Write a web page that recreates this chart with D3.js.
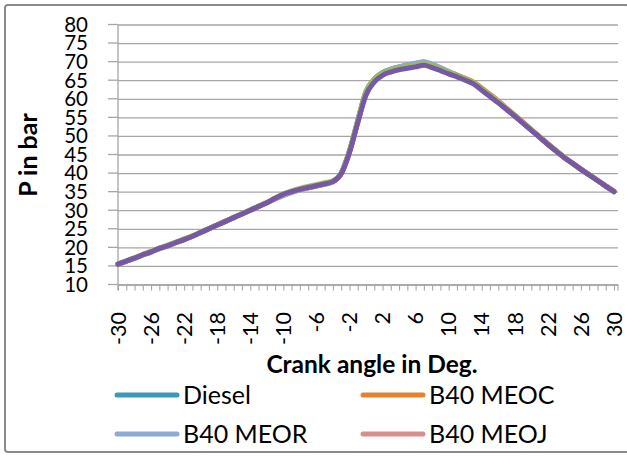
<!DOCTYPE html>
<html>
<head>
<meta charset="utf-8">
<script src="https://cdn.jsdelivr.net/npm/d3@7/dist/d3.min.js"></script>
<style>
  html, body { margin: 0; padding: 0; background: #fff; }
  svg { display: block; }
  text { font-family: Lato, "Open Sans", sans-serif; fill: #000; }
</style>
</head>
<body>
<svg id="chart" width="627" height="457"></svg>
<script>
// Crank angle in degrees (one category per degree)
const crankAngles = [-30,-29,-28,-27,-26,-25,-24,-23,-22,-21,-20,-19,-18,-17,-16,-15,-14,-13,-12,-11,-10,-9,-8,-7,-6,-5,-4,-3,-2,-1,0,1,2,3,4,5,6,7,8,9,10,11,12,13,14,15,16,17,18,19,20,21,22,23,24,25,26,27,28,29,30];

// Cylinder pressure (bar) for each fuel
const diesel  = [15.5,16.3,17.1,18.0,18.8,19.7,20.4,21.3,22.1,23.0,24.0,25.0,26.0,27.0,28.0,29.0,30.0,31.0,32.0,33.0,34.0,34.8,35.5,36.0,36.5,37.0,37.7,40.0,46.0,54.2,62.0,65.3,67.1,68.0,68.6,69.1,69.5,69.9,69.2,68.3,67.3,66.4,65.4,64.3,62.7,61.0,59.2,57.3,55.5,53.6,51.6,49.7,47.8,46.0,44.2,42.6,41.0,39.5,38.0,36.5,35.0];
const meoc    = [15.5,16.3,17.1,18.0,18.8,19.7,20.5,21.3,22.2,23.0,24.0,25.0,26.0,27.0,28.0,29.0,30.0,31.0,32.0,33.1,34.2,35.0,35.6,36.2,36.7,37.2,37.8,39.9,45.8,53.8,61.6,65.0,66.9,67.8,68.5,68.9,69.3,69.6,69.1,68.2,67.2,66.4,65.5,64.5,62.9,61.2,59.4,57.5,55.6,53.7,51.7,49.8,47.9,46.0,44.2,42.7,41.1,39.6,38.1,36.6,35.1];
const meor    = [15.5,16.2,17.0,17.9,18.7,19.6,20.4,21.2,22.1,23.0,24.0,25.0,26.0,27.0,28.0,29.0,30.0,31.0,32.0,33.0,34.0,34.8,35.5,36.0,36.5,37.0,37.6,39.9,45.9,54.0,61.8,65.2,67.0,67.9,68.6,69.1,69.6,70.0,69.3,68.4,67.3,66.3,65.3,64.2,62.6,60.8,59.0,57.2,55.4,53.5,51.6,49.7,47.8,46.0,44.1,42.6,41.0,39.5,38.0,36.5,35.0];
const meoj    = [15.5,16.3,17.1,18.0,18.8,19.7,20.4,21.3,22.1,23.0,24.0,25.0,26.0,27.0,28.0,29.0,30.0,31.0,32.0,33.1,34.2,35.0,35.6,36.1,36.6,37.1,37.7,39.8,45.6,53.6,61.3,64.8,66.6,67.5,68.1,68.6,69.0,69.4,68.9,68.0,67.0,66.2,65.3,64.3,62.6,60.9,59.2,57.4,55.5,53.6,51.7,49.8,47.9,46.0,44.2,42.6,41.1,39.6,38.1,36.6,35.1];
const blendE  = [15.5,16.3,17.2,18.1,18.9,19.8,20.6,21.4,22.3,23.1,24.1,25.1,26.1,27.1,28.1,29.1,30.1,31.1,32.1,33.3,34.4,35.2,35.9,36.4,36.9,37.4,37.9,40.1,46.0,54.0,62.0,65.3,66.9,67.7,68.3,68.7,69.1,69.5,68.9,68.1,67.1,66.3,65.4,64.4,62.7,61.0,59.2,57.3,55.4,53.5,51.6,49.7,47.8,46.0,44.2,42.6,41.0,39.5,38.0,36.5,35.0];
const blendF  = [15.5,16.3,17.1,18.0,18.8,19.7,20.4,21.3,22.1,23.0,24.0,25.0,26.0,27.0,28.0,29.0,30.0,31.0,32.0,33.2,34.3,35.0,35.6,36.1,36.6,37.1,37.7,39.8,45.5,53.5,61.0,64.5,66.3,67.2,67.8,68.2,68.6,69.0,68.4,67.6,66.7,65.9,65.0,64.0,62.3,60.6,58.9,57.1,55.3,53.4,51.5,49.6,47.7,45.9,44.1,42.6,41.0,39.5,38.0,36.5,35.0];

const seriesNames  = ["Diesel", "B40 MEOC", "B40 MEOR", "B40 MEOJ", "", ""];
const seriesValues = [diesel, meoc, meor, meoj, blendE, blendF];
const seriesColors = ["#3d9ab3", "#e6822e", "#8eaad6", "#d98e8e", "#9bbb59", "#7759a3"];
const legendCount  = 4;

const yTicks = [10,15,20,25,30,35,40,45,50,55,60,65,70,75,80];
const xLabels = [-30,-26,-22,-18,-14,-10,-6,-2,2,6,10,14,18,22,26,30];

const svg = d3.select("#chart");

// outer chart frame
svg.append("rect")
  .attr("x", 5).attr("y", 5).attr("width", 624).attr("height", 447)
  .attr("rx", 3)
  .attr("fill", "#fff").attr("stroke", "#8a8a8a").attr("stroke-width", 2);

const plot = { left: 118, right: 618, top: 24.5, bottom: 284.5 };

const x = d3.scalePoint().domain(crankAngles).range([plot.left, 614]);
const y = d3.scaleLinear().domain([10, 80]).range([plot.bottom, plot.top]);

// horizontal gridlines
const yAxis = d3.axisLeft(y).tickValues(yTicks)
  .tickSize(-(plot.right - plot.left)).tickSizeOuter(0).tickPadding(0).tickFormat("");
svg.append("g").attr("transform", `translate(${plot.left},0)`).call(yAxis)
  .call(g => g.select(".domain").remove())
  .call(g => g.selectAll(".tick line").attr("stroke", "#a6a6a6").attr("stroke-width", 1.3));
// outside tick marks on the value axis
svg.append("g").selectAll("line").data(yTicks).join("line")
  .attr("x1", plot.left - 10).attr("x2", plot.left)
  .attr("y1", d => y(d)).attr("y2", d => y(d))
  .attr("stroke", "#a6a6a6").attr("stroke-width", 1.3);

// value labels
svg.append("g").selectAll("text").data(yTicks).join("text")
  .attr("x", 88).attr("y", d => y(d)).attr("dy", "0.36em")
  .attr("text-anchor", "end").attr("font-size", 20.5)
  .text(d => d);

// value axis line
svg.append("line")
  .attr("x1", plot.left).attr("x2", plot.left)
  .attr("y1", plot.top).attr("y2", plot.bottom + 6)
  .attr("stroke", "#a6a6a6").attr("stroke-width", 1.3);

// category axis with a tick on every degree
const xAxis = d3.axisBottom(x).tickSize(6).tickSizeOuter(0).tickFormat("");
svg.append("g").attr("transform", `translate(0,${plot.bottom})`).call(xAxis)
  .call(g => g.select(".domain").attr("d", `M${plot.left},0.5H${plot.right}`)
    .attr("stroke", "#a6a6a6").attr("stroke-width", 1.3))
  .call(g => g.selectAll(".tick line").attr("stroke", "#a6a6a6").attr("stroke-width", 1.1));
svg.append("line")
  .attr("x1", plot.right).attr("x2", plot.right)
  .attr("y1", plot.bottom).attr("y2", plot.bottom + 6)
  .attr("stroke", "#a6a6a6").attr("stroke-width", 1.1);

// rotated category labels
svg.append("g").selectAll("text").data(xLabels).join("text")
  .attr("transform", d => `translate(${x(d)},312) rotate(-90)`)
  .attr("dy", "0.36em")
  .attr("text-anchor", "end").attr("font-size", 21.5)
  .text(d => d);

// axis titles
svg.append("text")
  .attr("transform", "translate(28,155) rotate(-90)")
  .attr("dy", "0.36em")
  .attr("text-anchor", "middle").attr("font-size", 25).attr("font-weight", "bold")
  .text("P in bar");
svg.append("text")
  .attr("x", 372).attr("y", 373)
  .attr("text-anchor", "middle").attr("font-size", 24.5).attr("font-weight", "bold")
  .text("Crank angle in Deg.");

// pressure curves
const line = d3.line()
  .x((d, i) => x(crankAngles[i]))
  .y(d => y(d))
  .curve(d3.curveMonotoneX);

svg.append("g").selectAll("path").data(seriesValues).join("path")
  .attr("d", d => line(d))
  .attr("fill", "none")
  .attr("stroke", (d, i) => seriesColors[i])
  .attr("stroke-width", 5)
  .attr("stroke-linejoin", "round")
  .attr("stroke-linecap", "round");

// legend (two columns, two rows)
const legendPos = [[117, 395], [363, 395], [117, 434], [363, 434]];
const legend = svg.append("g").selectAll("g")
  .data(d3.range(legendCount)).join("g")
  .attr("transform", i => `translate(${legendPos[i][0]},${legendPos[i][1]})`);
legend.append("line")
  .attr("x1", 0).attr("x2", 60).attr("y1", 0).attr("y2", 0)
  .attr("stroke", i => seriesColors[i]).attr("stroke-width", 5)
  .attr("stroke-linecap", "round");
legend.append("text")
  .attr("x", 66).attr("dy", "0.36em").attr("font-size", 25)
  .text(i => seriesNames[i]);
</script>
</body>
</html>
